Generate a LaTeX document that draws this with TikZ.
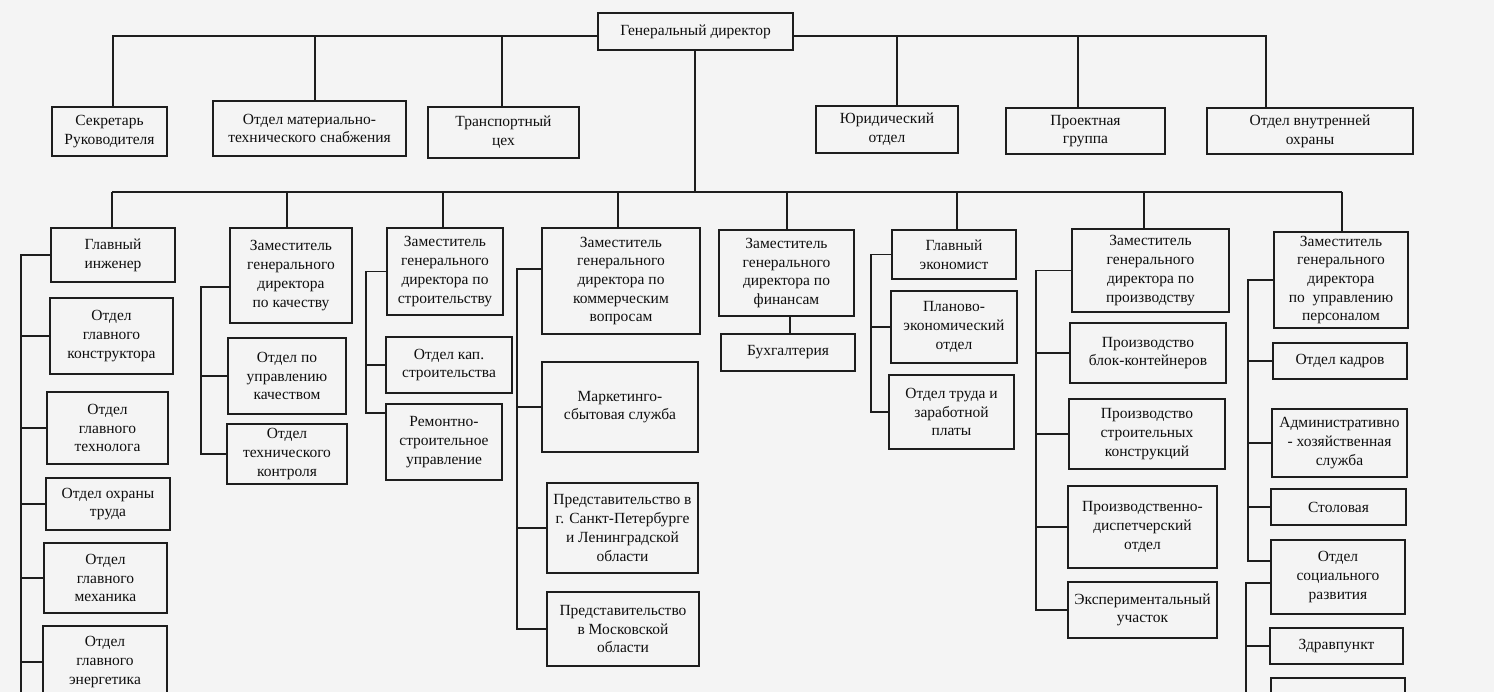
\documentclass[tikz,border=0pt]{standalone}
\usepackage{fontspec}
\setmainfont{Liberation Serif}
\definecolor{ink}{RGB}{30,30,30}
\definecolor{txt}{RGB}{15,15,15}
\definecolor{paper}{RGB}{244,244,244}
\newcommand\orgbox[6]{%
  \pgfmathsetmacro\obcx{(#2+#4)/2}\pgfmathsetmacro\obcy{(#3+#5)/2}%
  \pgfmathsetmacro\obw{#4-#2}\pgfmathsetmacro\obh{#5-#3}%
  \node[box,minimum width=\obw pt,minimum height=\obh pt] (#1) at (\obcx,\obcy) {#6};}
\newcommand\tie[2]{\draw[ln] (#1.west) -- (#1.west -| #2);}
\begin{document}
\begin{tikzpicture}[x=1pt,y=-1pt,
  box/.style={draw=ink,line width=1.4pt,align=center,inner sep=1pt,
    font=\fontsize{15.5}{18.7}\selectfont,text=txt},
  ln/.style={draw=ink,line width=1.3pt}]
\clip (0,0) rectangle (1494,692);
\fill[paper] (0,0) rectangle (1494,692);

% top row
\orgbox{gd}{598}{13}{793}{50}{Генеральный директор}
\orgbox{sec}{52}{107}{167}{156}{Секретарь\\Руководителя}
\orgbox{mts}{213}{101}{406}{156}{Отдел материально-\\технического снабжения}
\orgbox{tr}{428}{107}{579}{158}{Транспортный\\цех}
\orgbox{jur}{816}{106}{958}{153}{Юридический\\отдел}
\orgbox{proj}{1006}{108}{1165}{154}{Проектная\\группа}
\orgbox{ohr}{1207}{108}{1413}{154}{Отдел внутренней\\охраны}

% heads
\orgbox{gi}{51}{228}{175}{282}{Главный\\инженер}
\orgbox{zq}{230}{228}{352}{323}{Заместитель\\генерального\\директора\\по качеству}
\orgbox{zs}{387}{228}{503}{315}{Заместитель\\генерального\\директора по\\строительству}
\orgbox{zk}{542}{228}{700}{334}{Заместитель\\генерального\\директора по\\коммерческим\\вопросам}
\orgbox{zf}{719}{230}{854}{316}{Заместитель\\генерального\\директора по\\финансам}
\orgbox{ge}{892}{230}{1016}{279}{Главный\\экономист}
\orgbox{zp}{1072}{229}{1229}{312}{Заместитель\\генерального\\директора по\\производству}
\orgbox{zh}{1274}{232}{1408}{328}{Заместитель\\генерального\\директора\\по~~управлению\\персоналом}

% column 1
\orgbox{c1a}{50}{298}{173}{374}{Отдел\\главного\\конструктора}
\orgbox{c1b}{47}{392}{168}{464}{Отдел\\главного\\технолога}
\orgbox{c1c}{46}{478}{170}{530}{Отдел охраны\\труда}
\orgbox{c1d}{44}{543}{167}{613}{Отдел\\главного\\механика}
\orgbox{c1e}{43}{626}{167}{698}{Отдел\\главного\\энергетика}
% column 2
\orgbox{c2a}{228}{338}{346}{414}{Отдел по\\управлению\\качеством}
\orgbox{c2b}{227}{424}{347}{484}{Отдел\\технического\\контроля}
% column 3
\orgbox{c3a}{386}{337}{512}{393}{Отдел кап.\\строительства}
\orgbox{c3b}{386}{404}{502}{480}{Ремонтно-\\строительное\\управление}
% column 4
\orgbox{c4a}{542}{362}{698}{452}{Маркетинго-\\сбытовая служба}
\orgbox{c4b}{547}{483}{698}{573}{Представительство в\\г. Санкт-Петербурге\\и Ленинградской\\области}
\orgbox{c4c}{547}{592}{699}{666}{Представительство\\в Московской\\области}
% column 5
\orgbox{buh}{721}{334}{855}{371}{Бухгалтерия}
% column 6
\orgbox{c6a}{891}{291}{1017}{363}{Планово-\\экономический\\отдел}
\orgbox{c6b}{889}{375}{1014}{449}{Отдел труда и\\заработной\\платы}
% column 7
\orgbox{c7a}{1070}{323}{1226}{383}{Производство\\блок-контейнеров}
\orgbox{c7b}{1069}{399}{1225}{469}{Производство\\строительных\\конструкций}
\orgbox{c7c}{1068}{486}{1217}{568}{Производственно-\\диспетчерский\\отдел}
\orgbox{c7d}{1068}{582}{1217}{638}{Экспериментальный\\участок}
% column 8
\orgbox{c8a}{1273}{343}{1407}{379}{Отдел кадров}
\orgbox{c8b}{1272}{409}{1407}{477}{Административно\\- хозяйственная\\служба}
\orgbox{c8c}{1271}{489}{1406}{525}{Столовая}
\orgbox{c8d}{1271}{540}{1405}{614}{Отдел\\социального\\развития}
\orgbox{c8e}{1270}{628}{1403}{664}{Здравпункт}
\orgbox{c8f}{1271}{678}{1405}{740}{}

% top bus
\coordinate (tbL) at (113,36);
\coordinate (tbR) at (1266,36);
\draw[ln] (gd.west |- tbL) -- (tbL) -- (tbL |- sec.north);
\draw[ln] (gd.east |- tbR) -- (tbR) -- (tbR |- ohr.north);
\foreach \x/\n in {315/mts,502/tr,897/jur,1078/proj}{
  \coordinate (d\n) at (\x,36);
  \draw[ln] (d\n) -- (d\n |- \n.north);}

% second bus
\coordinate (b2L) at (112,192);
\coordinate (b2R) at (1342,192);
\draw[ln] (b2L) -- (b2R);
\coordinate (gdv) at (695,192);
\draw[ln] (gdv |- gd.south) -- (gdv);
\draw[ln] (b2L) -- (b2L |- gi.north);
\draw[ln] (b2R) -- (b2R |- zh.north);
\foreach \x/\n in {287/zq,443/zs,618/zk,787/zf,957/ge,1144/zp}{
  \coordinate (d\n) at (\x,192);
  \draw[ln] (d\n) -- (d\n |- \n.north);}

% column 1
\coordinate (s1b) at (21,700);
\draw[ln] (gi.west) -- (gi.west -| s1b) -- (s1b);
\tie{c1a}{s1b}\tie{c1b}{s1b}\tie{c1c}{s1b}\tie{c1d}{s1b}\tie{c1e}{s1b}
% column 2
\coordinate (s2) at (201,0);
\coordinate (zqc) at ([yshift=-11.5pt]zq.west);
\draw[ln] (zqc) -- (zqc -| s2) -- (c2b.west -| s2) -- (c2b.west);
\tie{c2a}{s2}
% column 3
\coordinate (s3) at (366,0);
\coordinate (c3bc) at ([yshift=29pt]c3b.west);
\draw[ln] (zs.west) -- (zs.west -| s3) -- (c3bc -| s3) -- (c3bc);
\tie{c3a}{s3}
% column 4
\coordinate (s4) at (517,0);
\coordinate (zkc) at ([yshift=12pt]zk.west);
\draw[ln] (zkc) -- (zkc -| s4) -- (c4c.west -| s4) -- (c4c.west);
\tie{c4a}{s4}\tie{c4b}{s4}
% column 5
\coordinate (zfv) at (790,0);
\draw[ln] (zfv |- zf.south) -- (zfv |- buh.north);
% column 6
\coordinate (s6) at (871,0);
\draw[ln] (ge.west) -- (ge.west -| s6) -- (c6b.west -| s6) -- (c6b.west);
\tie{c6a}{s6}
% column 7
\coordinate (s7) at (1036,0);
\draw[ln] (zp.west) -- (zp.west -| s7) -- (c7d.west -| s7) -- (c7d.west);
\tie{c7a}{s7}\tie{c7b}{s7}\tie{c7c}{s7}
% column 8
\coordinate (s8) at (1248,0);
\coordinate (c8dU) at ([yshift=16pt]c8d.west);
\coordinate (c8dL) at ([yshift=-6pt]c8d.west);
\draw[ln] (zh.west) -- (zh.west -| s8) -- (c8dU -| s8) -- (c8dU);
\tie{c8a}{s8}\tie{c8b}{s8}\tie{c8c}{s8}
\coordinate (s8b) at (1246,700);
\draw[ln] (c8dL) -- (c8dL -| s8b) -- (s8b);
\tie{c8e}{s8b}
\end{tikzpicture}
\end{document}
